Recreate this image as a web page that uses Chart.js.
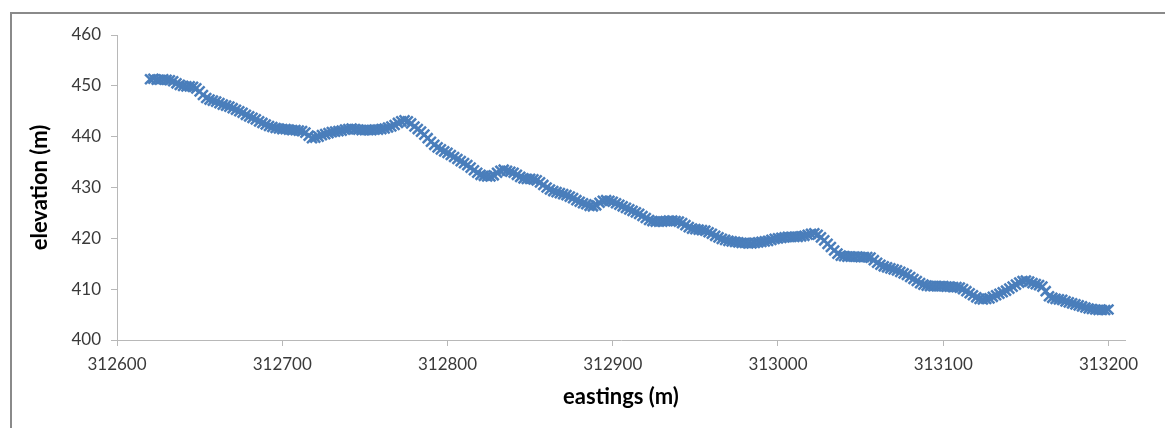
<!DOCTYPE html>
<html>
<head>
<meta charset="utf-8">
<script src="https://cdn.jsdelivr.net/npm/chart.js@4"></script>
<style>
  html, body { margin: 0; padding: 0; background: #fff; }
  #wrap { position: relative; width: 1165px; height: 428px; overflow: hidden; }
  #frame { position: absolute; left: 10px; top: 12px; width: 1200px; height: 500px;
           border-left: 2px solid #8a8a8a; border-top: 2px solid #8a8a8a; }
  #ch { position: absolute; left: 0; top: 0; }
</style>
</head>
<body>
<div id="wrap">
  <div id="frame"></div>
  <canvas id="ch" width="1165" height="428"></canvas>
</div>
<script>
// eastings (m) of each survey point
var eastings = [
  312620, 312622, 312624, 312626, 312628, 312630, 312632, 312634, 312636, 312638,
  312640, 312642, 312644, 312646, 312648, 312650, 312652, 312654, 312656, 312658,
  312660, 312662, 312664, 312666, 312668, 312670, 312672, 312674, 312676, 312678,
  312680, 312682, 312684, 312686, 312688, 312690, 312692, 312694, 312696, 312698,
  312700, 312702, 312704, 312706, 312708, 312710, 312712, 312714, 312716, 312718,
  312720, 312722, 312724, 312726, 312728, 312730, 312732, 312734, 312736, 312738,
  312740, 312742, 312744, 312746, 312748, 312750, 312752, 312754, 312756, 312758,
  312760, 312762, 312764, 312766, 312768, 312770, 312772, 312774, 312776, 312778,
  312780, 312782, 312784, 312786, 312788, 312790, 312792, 312794, 312796, 312798,
  312800, 312802, 312804, 312806, 312808, 312810, 312812, 312814, 312816, 312818,
  312820, 312822, 312824, 312826, 312828, 312830, 312832, 312834, 312836, 312838,
  312840, 312842, 312844, 312846, 312848, 312850, 312852, 312854, 312856, 312858,
  312860, 312862, 312864, 312866, 312868, 312870, 312872, 312874, 312876, 312878,
  312880, 312882, 312884, 312886, 312888, 312890, 312892, 312894, 312896, 312898,
  312900, 312902, 312904, 312906, 312908, 312910, 312912, 312914, 312916, 312918,
  312920, 312922, 312924, 312926, 312928, 312930, 312932, 312934, 312936, 312938,
  312940, 312942, 312944, 312946, 312948, 312950, 312952, 312954, 312956, 312958,
  312960, 312962, 312964, 312966, 312968, 312970, 312972, 312974, 312976, 312978,
  312980, 312982, 312984, 312986, 312988, 312990, 312992, 312994, 312996, 312998,
  313000, 313002, 313004, 313006, 313008, 313010, 313012, 313014, 313016, 313018,
  313020, 313022, 313024, 313026, 313028, 313030, 313032, 313034, 313036, 313038,
  313040, 313042, 313044, 313046, 313048, 313050, 313052, 313054, 313056, 313058,
  313060, 313062, 313064, 313066, 313068, 313070, 313072, 313074, 313076, 313078,
  313080, 313082, 313084, 313086, 313088, 313090, 313092, 313094, 313096, 313098,
  313100, 313102, 313104, 313106, 313108, 313110, 313112, 313114, 313116, 313118,
  313120, 313122, 313124, 313126, 313128, 313130, 313132, 313134, 313136, 313138,
  313140, 313142, 313144, 313146, 313148, 313150, 313152, 313154, 313156, 313158,
  313160, 313162, 313164, 313166, 313168, 313170, 313172, 313174, 313176, 313178,
  313180, 313182, 313184, 313186, 313188, 313190, 313192, 313194, 313196, 313198,
  313200
];

// elevation (m)
var elevation = [
  451.3, 451.4, 451.2, 451.2, 451.3, 451.2, 451.1, 450.9, 450.5, 450.2,
  450.0, 449.9, 449.9, 449.8, 449.5, 448.9, 448.2, 447.6, 447.3, 447.1,
  446.9, 446.6, 446.3, 446.1, 445.9, 445.6, 445.3, 445.0, 444.7, 444.3,
  444.0, 443.7, 443.4, 443.0, 442.7, 442.4, 442.1, 441.9, 441.7, 441.6,
  441.5, 441.5, 441.4, 441.3, 441.3, 441.2, 441.1, 440.8, 440.2, 439.7,
  439.8, 440.0, 440.3, 440.5, 440.7, 440.9, 441.0, 441.1, 441.2, 441.4,
  441.5, 441.6, 441.5, 441.4, 441.3, 441.3, 441.3, 441.3, 441.4, 441.4,
  441.5, 441.6, 441.8, 442.0, 442.3, 442.7, 443.0, 443.2, 443.0, 442.6,
  442.0, 441.5, 441.0, 440.4, 439.7, 439.0, 438.4, 437.9, 437.5, 437.1,
  436.8, 436.4, 436.0, 435.6, 435.2, 434.8, 434.4, 433.9, 433.4, 432.9,
  432.5, 432.3, 432.2, 432.2, 432.4, 432.9, 433.3, 433.5, 433.3, 433.1,
  432.9, 432.5, 432.1, 431.8, 431.7, 431.7, 431.6, 431.4, 431.0, 430.5,
  430.0, 429.6, 429.3, 429.1, 428.9, 428.7, 428.5, 428.2, 427.9, 427.5,
  427.2, 426.9, 426.7, 426.4, 426.3, 426.5, 427.0, 427.4, 427.5, 427.4,
  427.2, 426.9, 426.6, 426.3, 426.0, 425.7, 425.4, 425.1, 424.8, 424.4,
  424.0, 423.6, 423.4, 423.3, 423.3, 423.3, 423.4, 423.5, 423.5, 423.4,
  423.3, 423.0, 422.6, 422.2, 421.9, 421.8, 421.7, 421.6, 421.5, 421.2,
  420.9, 420.5, 420.2, 419.9, 419.7, 419.5, 419.4, 419.3, 419.2, 419.1,
  419.1, 419.0, 419.0, 419.1, 419.2, 419.3, 419.4, 419.5, 419.7, 419.9,
  420.0, 420.1, 420.2, 420.3, 420.3, 420.3, 420.3, 420.4, 420.5, 420.7,
  420.9, 421.0, 420.7, 420.2, 419.6, 418.9, 418.3, 417.6, 417.0, 416.6,
  416.5, 416.4, 416.4, 416.4, 416.4, 416.3, 416.3, 416.3, 416.2, 415.7,
  415.2, 414.8, 414.5, 414.3, 414.1, 413.9, 413.7, 413.4, 413.1, 412.8,
  412.4, 412.0, 411.6, 411.2, 410.9, 410.7, 410.6, 410.6, 410.6, 410.6,
  410.6, 410.5, 410.5, 410.4, 410.4, 410.3, 410.0, 409.6, 409.2, 408.8,
  408.4, 408.1, 408.0, 408.1, 408.2, 408.5, 408.8, 409.1, 409.4, 409.7,
  410.1, 410.5, 410.9, 411.3, 411.6, 411.7, 411.5, 411.2, 411.0, 410.8,
  410.5, 409.6, 408.6, 408.3, 408.1, 408.0, 407.9, 407.6, 407.4, 407.2,
  407.0, 406.8, 406.6, 406.4, 406.2, 406.1, 406.0, 405.9, 405.9, 405.9,
  406.0
];

var xTicks = [312600, 312700, 312800, 312900, 313000, 313100, 313200];
var yTicks = [400, 410, 420, 430, 440, 450, 460];

var pts = eastings.map(function (e, i) { return { x: e, y: elevation[i] }; });

var tickFont = { family: "Lato", size: 17 };
var ttlFont = { family: "Lato", size: 22, weight: "bold" };
var axisCol = "#b8b8b8";

function plain(v) { return String(v); }

new Chart(document.getElementById("ch"), {
    type: "scatter",
    data: {
        datasets: [{
            label: "profile",
            data: pts,
            pointStyle: "crossRot",
            pointRadius: 7,
            pointHoverRadius: 7,
            borderWidth: 2.5,
            borderColor: "#4a7ebb",
            backgroundColor: "#4a7ebb"
        }]
    },
    options: {
        responsive: false,
        animation: false,
        devicePixelRatio: 1,
        layout: { padding: { left: 0, right: 40, top: 35, bottom: 0 } },
        plugins: { legend: { display: false }, tooltip: { enabled: false } },
        events: [],
        scales: {
            x: {
                type: "linear",
                min: 312600,
                max: 313210,
                afterBuildTicks: function (s) {
                    s.ticks = xTicks.map(function (v) { return { value: v }; });
                },
                afterFit: function (s) { s.height = 88; },
                ticks: { font: tickFont, color: "#3a3a3a", padding: 8, maxRotation: 0, callback: plain },
                grid: { drawOnChartArea: false, drawTicks: true, tickLength: 6, tickColor: axisCol },
                border: { display: true, color: axisCol, width: 1 },
                title: { display: true, text: "eastings (m)", font: ttlFont, color: "#000",
                         padding: { top: 0, bottom: 18 } }
            },
            y: {
                type: "linear",
                min: 400,
                max: 460,
                afterBuildTicks: function (s) {
                    s.ticks = yTicks.map(function (v) { return { value: v }; });
                },
                afterFit: function (s) { s.width = 117; },
                ticks: { font: tickFont, color: "#3a3a3a", padding: 10, callback: plain },
                grid: { drawOnChartArea: false, drawTicks: true, tickLength: 6, tickColor: axisCol },
                border: { display: true, color: axisCol, width: 1 },
                title: { display: true, text: "elevation (m)", font: ttlFont, color: "#000",
                         padding: { top: 27, bottom: 0 } }
            }
        }
    }
});
</script>
</body>
</html>
